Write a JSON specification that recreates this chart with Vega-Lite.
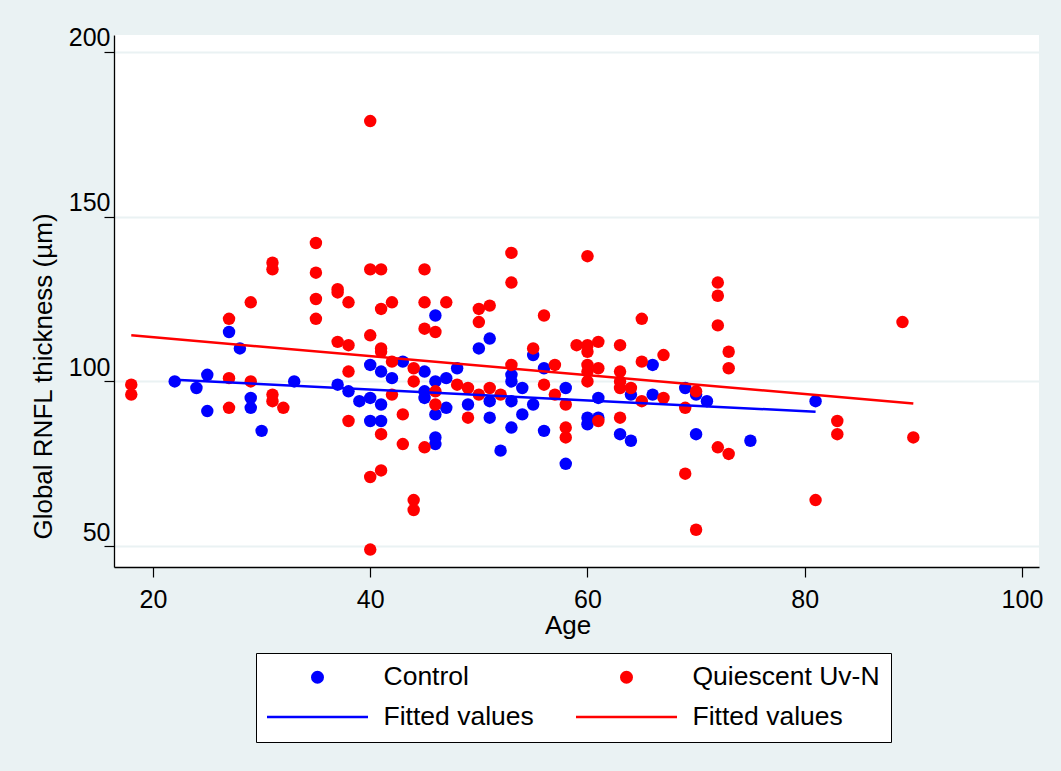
{
  "$schema": "https://vega.github.io/schema/vega-lite/v6.json",
  "width": 925,
  "height": 532,
  "autosize": {"type": "none"},
  "padding": {"left": 114, "top": 35, "right": 22, "bottom": 204},
  "background": "#EAF2F3",
  "config": {
    "view": {"fill": "white", "stroke": null},
    "font": "Liberation Sans"
  },
  "datasets": {
    "points": [
      {"age": 22, "rnfl": 100, "group": "Control"},
      {"age": 24, "rnfl": 98, "group": "Control"},
      {"age": 25, "rnfl": 102, "group": "Control"},
      {"age": 25, "rnfl": 91, "group": "Control"},
      {"age": 27, "rnfl": 115, "group": "Control"},
      {"age": 28, "rnfl": 110, "group": "Control"},
      {"age": 29, "rnfl": 95, "group": "Control"},
      {"age": 29, "rnfl": 92, "group": "Control"},
      {"age": 30, "rnfl": 85, "group": "Control"},
      {"age": 33, "rnfl": 100, "group": "Control"},
      {"age": 37, "rnfl": 99, "group": "Control"},
      {"age": 38, "rnfl": 97, "group": "Control"},
      {"age": 39, "rnfl": 94, "group": "Control"},
      {"age": 40, "rnfl": 105, "group": "Control"},
      {"age": 40, "rnfl": 95, "group": "Control"},
      {"age": 40, "rnfl": 88, "group": "Control"},
      {"age": 41, "rnfl": 103, "group": "Control"},
      {"age": 41, "rnfl": 93, "group": "Control"},
      {"age": 41, "rnfl": 88, "group": "Control"},
      {"age": 42, "rnfl": 101, "group": "Control"},
      {"age": 43, "rnfl": 106, "group": "Control"},
      {"age": 45, "rnfl": 103, "group": "Control"},
      {"age": 45, "rnfl": 97, "group": "Control"},
      {"age": 45, "rnfl": 95, "group": "Control"},
      {"age": 46, "rnfl": 120, "group": "Control"},
      {"age": 46, "rnfl": 100, "group": "Control"},
      {"age": 46, "rnfl": 90, "group": "Control"},
      {"age": 46, "rnfl": 83, "group": "Control"},
      {"age": 46, "rnfl": 81, "group": "Control"},
      {"age": 47, "rnfl": 101, "group": "Control"},
      {"age": 47, "rnfl": 92, "group": "Control"},
      {"age": 48, "rnfl": 104, "group": "Control"},
      {"age": 49, "rnfl": 93, "group": "Control"},
      {"age": 50, "rnfl": 110, "group": "Control"},
      {"age": 51, "rnfl": 113, "group": "Control"},
      {"age": 51, "rnfl": 94, "group": "Control"},
      {"age": 51, "rnfl": 89, "group": "Control"},
      {"age": 52, "rnfl": 79, "group": "Control"},
      {"age": 53, "rnfl": 102, "group": "Control"},
      {"age": 53, "rnfl": 100, "group": "Control"},
      {"age": 53, "rnfl": 94, "group": "Control"},
      {"age": 53, "rnfl": 86, "group": "Control"},
      {"age": 54, "rnfl": 98, "group": "Control"},
      {"age": 54, "rnfl": 90, "group": "Control"},
      {"age": 55, "rnfl": 108, "group": "Control"},
      {"age": 55, "rnfl": 93, "group": "Control"},
      {"age": 56, "rnfl": 104, "group": "Control"},
      {"age": 56, "rnfl": 85, "group": "Control"},
      {"age": 58, "rnfl": 98, "group": "Control"},
      {"age": 58, "rnfl": 75, "group": "Control"},
      {"age": 60, "rnfl": 89, "group": "Control"},
      {"age": 60, "rnfl": 87, "group": "Control"},
      {"age": 61, "rnfl": 95, "group": "Control"},
      {"age": 61, "rnfl": 89, "group": "Control"},
      {"age": 63, "rnfl": 84, "group": "Control"},
      {"age": 64, "rnfl": 96, "group": "Control"},
      {"age": 64, "rnfl": 82, "group": "Control"},
      {"age": 66, "rnfl": 105, "group": "Control"},
      {"age": 66, "rnfl": 96, "group": "Control"},
      {"age": 69, "rnfl": 98, "group": "Control"},
      {"age": 70, "rnfl": 96, "group": "Control"},
      {"age": 70, "rnfl": 84, "group": "Control"},
      {"age": 71, "rnfl": 94, "group": "Control"},
      {"age": 75, "rnfl": 82, "group": "Control"},
      {"age": 81, "rnfl": 94, "group": "Control"},
      {"age": 18, "rnfl": 99, "group": "Quiescent Uv-N"},
      {"age": 18, "rnfl": 96, "group": "Quiescent Uv-N"},
      {"age": 27, "rnfl": 119, "group": "Quiescent Uv-N"},
      {"age": 27, "rnfl": 101, "group": "Quiescent Uv-N"},
      {"age": 27, "rnfl": 92, "group": "Quiescent Uv-N"},
      {"age": 29, "rnfl": 124, "group": "Quiescent Uv-N"},
      {"age": 29, "rnfl": 100, "group": "Quiescent Uv-N"},
      {"age": 31, "rnfl": 136, "group": "Quiescent Uv-N"},
      {"age": 31, "rnfl": 134, "group": "Quiescent Uv-N"},
      {"age": 31, "rnfl": 96, "group": "Quiescent Uv-N"},
      {"age": 31, "rnfl": 94, "group": "Quiescent Uv-N"},
      {"age": 32, "rnfl": 92, "group": "Quiescent Uv-N"},
      {"age": 35, "rnfl": 142, "group": "Quiescent Uv-N"},
      {"age": 35, "rnfl": 133, "group": "Quiescent Uv-N"},
      {"age": 35, "rnfl": 125, "group": "Quiescent Uv-N"},
      {"age": 35, "rnfl": 119, "group": "Quiescent Uv-N"},
      {"age": 37, "rnfl": 128, "group": "Quiescent Uv-N"},
      {"age": 37, "rnfl": 127, "group": "Quiescent Uv-N"},
      {"age": 37, "rnfl": 112, "group": "Quiescent Uv-N"},
      {"age": 38, "rnfl": 124, "group": "Quiescent Uv-N"},
      {"age": 38, "rnfl": 111, "group": "Quiescent Uv-N"},
      {"age": 38, "rnfl": 103, "group": "Quiescent Uv-N"},
      {"age": 38, "rnfl": 88, "group": "Quiescent Uv-N"},
      {"age": 40, "rnfl": 179, "group": "Quiescent Uv-N"},
      {"age": 40, "rnfl": 134, "group": "Quiescent Uv-N"},
      {"age": 40, "rnfl": 114, "group": "Quiescent Uv-N"},
      {"age": 40, "rnfl": 71, "group": "Quiescent Uv-N"},
      {"age": 40, "rnfl": 49, "group": "Quiescent Uv-N"},
      {"age": 41, "rnfl": 134, "group": "Quiescent Uv-N"},
      {"age": 41, "rnfl": 122, "group": "Quiescent Uv-N"},
      {"age": 41, "rnfl": 110, "group": "Quiescent Uv-N"},
      {"age": 41, "rnfl": 109, "group": "Quiescent Uv-N"},
      {"age": 41, "rnfl": 84, "group": "Quiescent Uv-N"},
      {"age": 41, "rnfl": 73, "group": "Quiescent Uv-N"},
      {"age": 42, "rnfl": 124, "group": "Quiescent Uv-N"},
      {"age": 42, "rnfl": 106, "group": "Quiescent Uv-N"},
      {"age": 42, "rnfl": 96, "group": "Quiescent Uv-N"},
      {"age": 43, "rnfl": 90, "group": "Quiescent Uv-N"},
      {"age": 43, "rnfl": 81, "group": "Quiescent Uv-N"},
      {"age": 44, "rnfl": 104, "group": "Quiescent Uv-N"},
      {"age": 44, "rnfl": 100, "group": "Quiescent Uv-N"},
      {"age": 44, "rnfl": 64, "group": "Quiescent Uv-N"},
      {"age": 44, "rnfl": 61, "group": "Quiescent Uv-N"},
      {"age": 45, "rnfl": 134, "group": "Quiescent Uv-N"},
      {"age": 45, "rnfl": 124, "group": "Quiescent Uv-N"},
      {"age": 45, "rnfl": 116, "group": "Quiescent Uv-N"},
      {"age": 45, "rnfl": 80, "group": "Quiescent Uv-N"},
      {"age": 46, "rnfl": 115, "group": "Quiescent Uv-N"},
      {"age": 46, "rnfl": 97, "group": "Quiescent Uv-N"},
      {"age": 46, "rnfl": 93, "group": "Quiescent Uv-N"},
      {"age": 47, "rnfl": 124, "group": "Quiescent Uv-N"},
      {"age": 48, "rnfl": 99, "group": "Quiescent Uv-N"},
      {"age": 49, "rnfl": 98, "group": "Quiescent Uv-N"},
      {"age": 49, "rnfl": 89, "group": "Quiescent Uv-N"},
      {"age": 50, "rnfl": 122, "group": "Quiescent Uv-N"},
      {"age": 50, "rnfl": 118, "group": "Quiescent Uv-N"},
      {"age": 50, "rnfl": 96, "group": "Quiescent Uv-N"},
      {"age": 51, "rnfl": 123, "group": "Quiescent Uv-N"},
      {"age": 51, "rnfl": 98, "group": "Quiescent Uv-N"},
      {"age": 52, "rnfl": 96, "group": "Quiescent Uv-N"},
      {"age": 53, "rnfl": 139, "group": "Quiescent Uv-N"},
      {"age": 53, "rnfl": 130, "group": "Quiescent Uv-N"},
      {"age": 53, "rnfl": 105, "group": "Quiescent Uv-N"},
      {"age": 55, "rnfl": 110, "group": "Quiescent Uv-N"},
      {"age": 56, "rnfl": 120, "group": "Quiescent Uv-N"},
      {"age": 56, "rnfl": 99, "group": "Quiescent Uv-N"},
      {"age": 57, "rnfl": 105, "group": "Quiescent Uv-N"},
      {"age": 57, "rnfl": 96, "group": "Quiescent Uv-N"},
      {"age": 58, "rnfl": 93, "group": "Quiescent Uv-N"},
      {"age": 58, "rnfl": 86, "group": "Quiescent Uv-N"},
      {"age": 58, "rnfl": 83, "group": "Quiescent Uv-N"},
      {"age": 59, "rnfl": 111, "group": "Quiescent Uv-N"},
      {"age": 60, "rnfl": 138, "group": "Quiescent Uv-N"},
      {"age": 60, "rnfl": 111, "group": "Quiescent Uv-N"},
      {"age": 60, "rnfl": 109, "group": "Quiescent Uv-N"},
      {"age": 60, "rnfl": 105, "group": "Quiescent Uv-N"},
      {"age": 60, "rnfl": 103, "group": "Quiescent Uv-N"},
      {"age": 60, "rnfl": 100, "group": "Quiescent Uv-N"},
      {"age": 61, "rnfl": 112, "group": "Quiescent Uv-N"},
      {"age": 61, "rnfl": 104, "group": "Quiescent Uv-N"},
      {"age": 61, "rnfl": 88, "group": "Quiescent Uv-N"},
      {"age": 63, "rnfl": 111, "group": "Quiescent Uv-N"},
      {"age": 63, "rnfl": 103, "group": "Quiescent Uv-N"},
      {"age": 63, "rnfl": 100, "group": "Quiescent Uv-N"},
      {"age": 63, "rnfl": 98, "group": "Quiescent Uv-N"},
      {"age": 63, "rnfl": 89, "group": "Quiescent Uv-N"},
      {"age": 64, "rnfl": 98, "group": "Quiescent Uv-N"},
      {"age": 65, "rnfl": 119, "group": "Quiescent Uv-N"},
      {"age": 65, "rnfl": 106, "group": "Quiescent Uv-N"},
      {"age": 65, "rnfl": 94, "group": "Quiescent Uv-N"},
      {"age": 67, "rnfl": 108, "group": "Quiescent Uv-N"},
      {"age": 67, "rnfl": 95, "group": "Quiescent Uv-N"},
      {"age": 69, "rnfl": 92, "group": "Quiescent Uv-N"},
      {"age": 69, "rnfl": 72, "group": "Quiescent Uv-N"},
      {"age": 70, "rnfl": 97, "group": "Quiescent Uv-N"},
      {"age": 70, "rnfl": 55, "group": "Quiescent Uv-N"},
      {"age": 72, "rnfl": 130, "group": "Quiescent Uv-N"},
      {"age": 72, "rnfl": 126, "group": "Quiescent Uv-N"},
      {"age": 72, "rnfl": 117, "group": "Quiescent Uv-N"},
      {"age": 72, "rnfl": 80, "group": "Quiescent Uv-N"},
      {"age": 73, "rnfl": 109, "group": "Quiescent Uv-N"},
      {"age": 73, "rnfl": 104, "group": "Quiescent Uv-N"},
      {"age": 73, "rnfl": 78, "group": "Quiescent Uv-N"},
      {"age": 81, "rnfl": 64, "group": "Quiescent Uv-N"},
      {"age": 83, "rnfl": 88, "group": "Quiescent Uv-N"},
      {"age": 83, "rnfl": 84, "group": "Quiescent Uv-N"},
      {"age": 89, "rnfl": 118, "group": "Quiescent Uv-N"},
      {"age": 90, "rnfl": 83, "group": "Quiescent Uv-N"}
    ],
    "fits": [
      {"age": 22, "rnfl": 100.5, "group": "Fitted values (Control)"},
      {"age": 81, "rnfl": 90.8, "group": "Fitted values (Control)"},
      {"age": 18, "rnfl": 114.0, "group": "Fitted values (Quiescent Uv-N)"},
      {"age": 90, "rnfl": 93.3, "group": "Fitted values (Quiescent Uv-N)"}
    ]
  },
  "encoding": {
    "x": {
      "field": "age",
      "type": "quantitative",
      "scale": {"domain": [16.41, 101.57], "nice": false, "zero": false},
      "axis": {
        "title": "Age",
        "values": [20, 40, 60, 80, 100],
        "grid": false,
        "domainColor": "black",
        "domainWidth": 1.3,
        "tickColor": "black",
        "tickWidth": 1.2,
        "tickSize": 10,
        "labelFont": "Liberation Sans",
        "labelFontSize": 25,
        "labelColor": "black",
        "labelPadding": 10,
        "labelFlush": false,
        "titleFont": "Liberation Sans",
        "titleFontSize": 26,
        "titleFontWeight": "normal",
        "titleColor": "black",
        "titleBaseline": "alphabetic",
        "titleX": 453.5,
        "titleY": 66
      }
    },
    "y": {
      "field": "rnfl",
      "type": "quantitative",
      "scale": {"domain": [43.7, 205.1], "nice": false, "zero": false},
      "axis": {
        "title": "Global RNFL thickness (µm)",
        "values": [50, 100, 150, 200],
        "grid": true,
        "gridColor": "#EAF2F3",
        "gridWidth": 2,
        "domainColor": "black",
        "domainWidth": 1.3,
        "tickColor": "black",
        "tickWidth": 1.2,
        "tickSize": 10,
        "labelFont": "Liberation Sans",
        "labelFontSize": 25,
        "labelColor": "black",
        "labelAngle": 0,
        "labelAlign": "right",
        "labelBaseline": "alphabetic",
        "labelOffset": -6,
        "labelPadding": -6,
        "labelFlush": false,
        "titleFont": "Liberation Sans",
        "titleFontSize": 26,
        "titleFontWeight": "normal",
        "titleColor": "black",
        "titleAngle": 270,
        "titleAlign": "center",
        "titleBaseline": "alphabetic",
        "titleX": -63,
        "titleY": 341
      }
    },
    "color": {
      "field": "group",
      "type": "nominal",
      "scale": {
        "domain": ["Control", "Fitted values (Control)", "Quiescent Uv-N", "Fitted values (Quiescent Uv-N)"],
        "range": ["#0000FF", "#0000FF", "#FF0000", "#FF0000"]
      },
      "legend": {
        "title": null,
        "orient": "none",
        "legendX": 142,
        "legendY": 618,
        "columns": 2,
        "padding": 11,
        "fillColor": "white",
        "strokeColor": "black",
        "labelFont": "Liberation Sans",
        "labelFontSize": 26.5,
        "labelColor": "black",
        "labelLimit": 400,
        "labelExpr": "indexof(datum.label, 'Fitted') === 0 ? 'Fitted values' : datum.label",
        "symbolSize": 10201,
        "symbolStrokeWidth": 2.5,
        "symbolOffset": -1.5,
        "labelOffset": 14,
        "columnPadding": 42,
        "rowPadding": 13,
        "clipHeight": 26,
        "encode": {
          "symbols": {
            "update": {
              "shape": [
                {"test": "indexof(datum.value, 'Fitted') === 0", "value": "stroke"},
                {"value": "M-0.104,0A0.104,0.104,0,1,0,0.104,0A0.104,0.104,0,1,0,-0.104,0Z"}
              ],
              "fill": [
                {"test": "indexof(datum.value, 'Fitted') === 0", "value": "transparent"},
                {"scale": "color", "field": "value"}
              ],
              "stroke": {"scale": "color", "field": "value"},
              "opacity": {"value": 1}
            }
          }
        }
      }
    }
  },
  "layer": [
    {
      "data": {"name": "points"},
      "mark": {"type": "circle", "size": 155, "opacity": 1}
    },
    {
      "data": {"name": "fits"},
      "mark": {"type": "line", "strokeWidth": 2.5}
    }
  ]
}
